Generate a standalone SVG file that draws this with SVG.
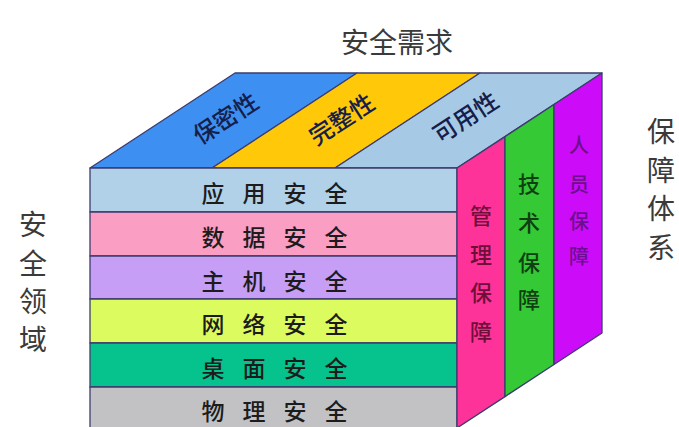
<svg xmlns="http://www.w3.org/2000/svg" width="679" height="427" viewBox="0 0 679 427">
<style>
.f{stroke:#3c3c6e;stroke-width:1.3;stroke-linejoin:round}
.t{font-family:"Noto Sans CJK SC","Noto Sans",sans-serif;text-anchor:middle}
.row{font-size:23px;fill:#1c1c1c;font-weight:500}
.top{font-size:24px;fill:#15204a;font-weight:500}
.side{font-size:22px;font-weight:500}
.out{font-size:28px;fill:#3a3a3a}
</style>
<rect width="679" height="427" fill="#ffffff"/>
<g id="title"><text class="t out" x="397" y="53">安全需求</text></g>
<g id="label-domain"><text class="t out" x="33 33 33 33" y="235 274 312 350">安全领域</text></g>
<g id="label-system"><text class="t out" x="661 661 661 661" y="142 181 219 258">保障体系</text></g>

<g id="top-confidentiality">
<polygon class="f" fill="#3d8ff2" points="90,168 212,168 357,73 235,73"/>
<text class="t top" transform="translate(226,119) rotate(-33)" x="0" y="8">保密性</text>
</g>
<g id="top-integrity">
<polygon class="f" fill="#ffc90a" points="212,168 335,168 480,73 357,73"/>
<text class="t top" transform="translate(342,120) rotate(-33)" x="0" y="8">完整性</text>
</g>
<g id="top-availability">
<polygon class="f" fill="#a6c9e6" points="335,168 457,168 602,73 480,73"/>
<text class="t top" transform="translate(466,118) rotate(-33)" x="0" y="8">可用性</text>
</g>

<g id="row-app">
<rect class="f" fill="#b1d1e9" x="90" y="168" width="367" height="44"/>
<text class="t row" x="213 254 295 336" y="202">应用安全</text>
</g>
<g id="row-data">
<rect class="f" fill="#fa9ec4" x="90" y="212" width="367" height="44"/>
<text class="t row" x="213 254 295 336" y="246">数据安全</text>
</g>
<g id="row-host">
<rect class="f" fill="#c79ef5" x="90" y="256" width="367" height="43"/>
<text class="t row" x="213 254 295 336" y="290">主机安全</text>
</g>
<g id="row-network">
<rect class="f" fill="#dcfb5e" x="90" y="299" width="367" height="44"/>
<text class="t row" x="213 254 295 336" y="333">网络安全</text>
</g>
<g id="row-desktop">
<rect class="f" fill="#06c28c" x="90" y="343" width="367" height="44"/>
<text class="t row" x="213 254 295 336" y="377">桌面安全</text>
</g>
<g id="row-physical">
<rect class="f" fill="#c2c2c4" x="90" y="387" width="367" height="44"/>
<text class="t row" x="213 254 295 336" y="420">物理安全</text>
</g>

<g id="side-management">
<polygon class="f" fill="#fe3399" points="457,168 505,136.6 505,396.6 457,428"/>
<text class="t side" fill="#6e0f3a" x="481 481 481 481" y="224 263 301 340">管理保障</text>
</g>
<g id="side-technical">
<polygon class="f" fill="#35c935" points="505,136.6 554,104.5 554,364.5 505,396.6"/>
<text class="t side" fill="#0f3f12" x="529 529 529 529" y="192 231 271 308">技术保障</text>
</g>
<g id="side-personnel">
<polygon class="f" fill="#cc0cf8" points="554,104.5 602,73 602,333 554,364.5"/>
<text class="t side" fill="#6c0e8e" style="font-size:20px" x="579 579 579 579" y="153 192 229 264">人员保障</text>
</g>
<g id="connectors"/>
</svg>
